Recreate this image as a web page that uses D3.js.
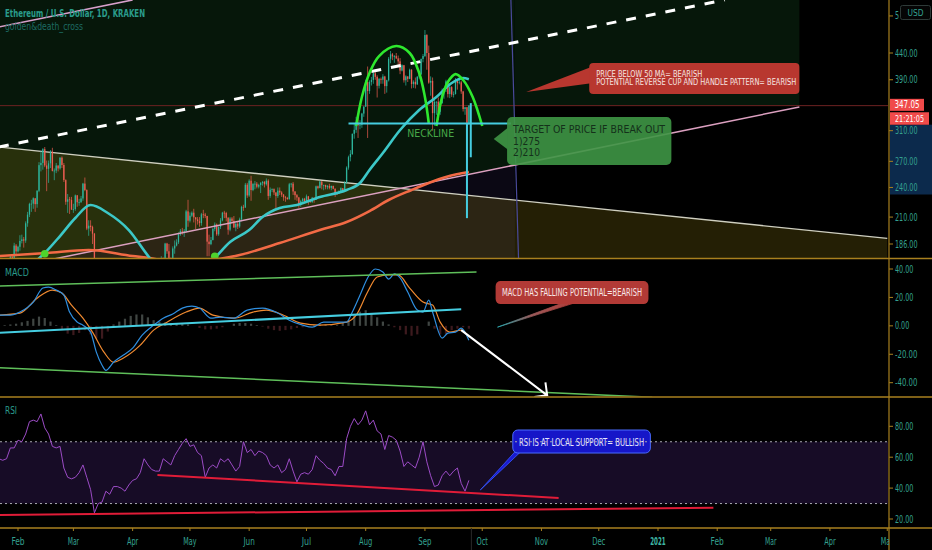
<!DOCTYPE html>
<html><head><meta charset="utf-8">
<script src="https://cdn.jsdelivr.net/npm/d3@7"></script>
<style>html,body{margin:0;padding:0;background:#000;overflow:hidden}svg{display:block}</style>
</head><body>
<svg id="c" width="932" height="550"></svg>
<script>
// ---------------- DATA ----------------
const startDate = "2020-01-22";
const firstOpen = 169.0;
const closes = [
167.9,162.5,162.7,160.6,167.9,170.1,175.6,174.3,184.7,179.9,
183.7,188.6,189.9,188.9,204.2,212.3,222.7,223.1,228.6,222.6,236.5,265.4,268.1,285.2,265.0,261.0,267.6,282.2,258.6,259.0,265.0,261.5,274.5,265.6,248.1,225.0,227.5,226.8,217.2,
217.7,231.6,224.5,224.5,228.4,244.2,237.2,199.4,202.0,200.8,194.9,112.3,133.2,123.3,125.2,110.6,113.9,115.9,133.6,132.8,132.7,122.3,135.6,138.9,136.3,138.8,131.0,130.9,125.2,132.1,133.6,
136.2,141.6,141.5,144.2,142.9,169.7,164.3,173.7,170.8,157.9,158.3,158.4,156.8,157.6,153.5,172.4,171.6,186.4,180.0,171.2,170.8,182.3,184.7,187.4,194.2,197.3,196.7,197.2,215.5,206.6,
211.3,214.2,209.7,207.8,206.2,204.4,212.6,212.4,211.1,188.0,185.9,189.4,199.1,203.1,194.3,200.8,206.9,214.2,213.9,209.3,198.4,208.6,206.4,200.4,203.7,201.3,208.0,219.9,219.2,243.0,231.5,
247.4,237.2,243.8,244.1,240.8,242.7,244.9,246.1,243.5,247.4,231.0,237.5,238.2,234.7,230.9,236.6,234.6,232.4,229.6,228.9,227.8,243.5,244.1,235.7,231.8,229.4,222.1,225.7,228.1,225.6,
230.6,225.9,224.6,229.2,227.3,241.2,239.5,246.5,242.4,242.7,240.3,241.7,239.6,241.6,238.6,233.6,233.5,235.8,239.2,236.2,245.1,262.5,275.1,279.1,305.7,311.2,321.5,317.6,318.4,334.9,345.6,
386.2,370.6,386.1,389.8,401.6,395.2,379.5,391.6,390.0,395.8,379.0,389.2,428.7,437.4,433.4,433.8,429.5,423.7,406.5,416.4,389.1,396.0,391.6,408.1,382.5,386.4,382.0,395.6,399.4,428.4,434.1,
477.1,440.0,385.0,388.0,335.5,352.8,353.2,337.6,351.0,368.1,374.7,387.2,365.6,377.3,364.8,365.6,389.0,384.4,385.5,370.0,341.8,344.5,321.1,347.05];
const highs = [
170.5,168,164,163,168.5,172.5,176.5,177.5,187,186,
184.5,193.5,194,192,206,215,224,227,229.5,228,237,269,283,286.5,288,271,271,284,287,261.5,268,265,275,276,268,249,233,230,230,
223,232.5,232,228,231,245,251,238,207,207,202,195.5,137,134,132,125,118,117.5,135,146,137,135,136,144,143,140,140,133,131,134,135,
137,145,146,145.5,145,171,176,174.5,174,171,160,164,158.5,160,160,176,175,187,187,186,175,184,189,190,196,199,200,199,217,227,
214.5,215.5,218,210,210,210,214,217,214,211,194,192,200,205,204,201.5,209,215,216,215,210,210,210,211,205,206,209.5,221,222,245,245,
249,253,245,247,246,244,246,247,247,250,249,240,239,239,233,240,240,236,233,231,230,245,245,246,236,233,230,227,229,229,
232.5,231,227,230,229,242,242,247.5,247,243,243,242.5,244,242,242,239,235,237,240,239,247,264,277,284,306,320,330,329,325,336,346,
390,414,389,395,403,406,398,393,394,400,397,390,432,444,440,436,440,435,430,418,417,398,395,410,409,389,394,396,403,429,438,
488,479,455,396,394,356,354,360,354,375,376,390,388,382,379,370,393,391,393,388,371,345,345,348];
const lows = [
165,159.5,155.5,158.8,159.7,166.6,167.5,172.2,171.5,176,
179,180.5,186.5,183,187,201,210,215,218,215,219,235,258,260,263,236,245,262,258,248,256,258,260,262,246,222,214,213,217,
214,216,220,221,224,226,236,198,193,197,186,101,90,122,122,107,110,108,115,122,125,121,121,134,133,134,130,125,124.5,124.5,130,
128,135,139,139,140,143,164,163,168,152,154,157,150,155,153,150,170,171,178,168,168,170,178,184,186,193,194,192,196,201,
205,210,205,199,203,201,202,209,209,176,176,185,189,197,193,193,199,206,209,206,194,197,204,200,197,199,200,206,216,219,229,
230,226,236,238,239,239,234,242,240,242,227,229,235,232,218,229,232,230,226,225,227,227,240,232,227,226,219,220,223,224,
225,222,224,224,224,227,238,239,238,237,238,238,238,237,238,230,232,233,234,235,236,244,260,270,278,299,307,300,312,314,330,
345,300,366,380,383,390,360,375,383,383,366,368,387,420,426,421,428,413,400,405,385,380,386,391,375,376,375,381,392,399,422,
432,408,383,363,310,317,333,325,333,350,358,369,360,359,361,360,365,373,382,366,338,333,316,318];

const ma50Dates = ["2020-01-22","2020-02-05","2020-02-15","2020-02-23","2020-03-02","2020-03-10","2020-03-19","2020-03-30","2020-04-10","2020-04-18","2020-04-25","2020-05-06","2020-05-14","2020-05-22","2020-06-01","2020-06-08","2020-06-17","2020-06-26","2020-07-08","2020-07-22","2020-07-29","2020-08-03","2020-08-10","2020-08-19","2020-08-29","2020-09-07","2020-09-15","2020-09-21","2020-09-24"];
const ma50Values = [152,166,178.6,192.8,209.1,221.7,213.9,198.1,174.6,163,158,163,174.6,187.7,198.1,210.1,218.8,221.7,229.9,237.3,244.9,259.7,280.3,310.9,340.3,360.8,384.3,393.1,391];
const ma200Dates = ["2020-01-22","2020-02-16","2020-03-09","2020-04-01","2020-04-10","2020-04-25","2020-05-13","2020-05-27","2020-06-17","2020-07-08","2020-07-22","2020-08-03","2020-08-13","2020-08-25","2020-09-03","2020-09-12","2020-09-24"];
const ma200Values = [176.2,178.6,181.0,176.2,174.6,170.7,173.1,177.0,186.8,198.1,205.4,215.8,226.8,237.3,244.9,251.6,257.3];
const crossDates = ["2020-02-15","2020-05-14"];
const crossValues = [178,176];

// MACD (day index from first candle)
const macdDays = [0,6,11,18,23,26,30,34,37,41,44,48,51,54,56,60,65,70,75,81,86,91,96,101,105,111,116,123,130,138,146,152,159,164,170,177,182,185,189,193,197,201,204,207,210,214,219,222,225,227,232,235,239,242,246];
const macdValues = [7.5,7.5,9.7,16.7,26.6,27.3,25.2,21.6,9.7,2.6,0.5,-4.4,-18.5,-27.7,-31.3,-25.6,-20.7,-15.7,-6.5,0.5,5.4,8.3,12.5,13.9,12.5,5.4,6.2,5.4,11.1,12.5,9.0,4.0,0.5,-0.9,2.6,2.6,2.6,9.7,21.6,33.7,40.0,37.9,32.9,36.5,33.7,23.8,11.1,9.7,18.1,9.7,-8.6,-5.1,-4.4,-1.6,-10.1];
const signalDays = [0,11,20,28,33,38,44,49,55,60,65,74,81,88,98,105,112,123,133,140,149,158,168,182,187,193,198,204,209,215,222,227,231,236,242,246];
const signalValues = [7.5,8.9,19.5,25.2,23.1,14.6,5.4,-4.4,-18.5,-25.6,-22.8,-13.6,-3.0,2.6,9.7,12.5,7.5,5.4,9.7,11.1,7.5,1.9,0.5,2.6,7.5,23.8,34.4,35.8,35.8,26.6,16.7,14.6,2.6,-4.4,-3.0,-8.0];
const histStep = 3;
const histValues = [0.5,0.5,1,1.5,2.5,3.5,5,6.5,5.5,3,0.5,-3,-5.5,-6.5,-5,-3,-6,-9,-9,-4,1,3,5,7,8,8,6,4,3,2.5,2,2,1.5,1,0,-1.5,-2.5,-2.5,-2,-1,0,1.5,2,2,1.5,0.5,-0.5,-2,-3,-3.5,-3,-2.5,-1.5,-1,-0.5,0.5,1,1,0.5,0.5,2,4,7,10,11,9,6,3,1,-1,-3,-6,-7,-6,0,3,-2,-6,-6,-3,-2,-1,-2];
// RSI every 2nd day
const rsiStep = 2;
const rsiValues = [59,58,59,66,66,71,70,75,83,84,83,88,79,75,67,66,67,53,47,46,47,50,55,47,39,24,30,31,38,36,41,41,40,38,42,45,46,50,59,55,52,51,51,59,57,55,61,65,69,72,67,68,63,61,47,53,55,53,59,57,59,55,51,54,70,63,65,61,64,63,61,55,53,55,50,52,59,51,44,49,50,49,52,61,58,56,53,52,48,54,54,72,80,85,81,84,90,81,84,77,75,65,74,73,71,64,54,57,55,53,60,70,57,48,41,42,48,51,48,51,53,43,38,45];

const priceTicks = [520,440,390,310,270,240,210,186];
const macdTicks = [40,20,0,-20,-40];
const rsiTicks = [80,60,40,20];
const monthTickDates = ["2020-02-01","2020-03-01","2020-04-01","2020-05-01","2020-06-01","2020-07-01","2020-08-01","2020-09-01","2020-10-01","2020-11-01","2020-12-01","2021-01-01","2021-02-01","2021-03-01","2021-04-01","2021-05-01"];
const monthTickLabels = ["Feb","Mar","Apr","May","Jun","Jul","Aug","Sep","Oct","Nov","Dec","2021","Feb","Mar","Apr","May"];
const lastPrice = 347.05;

// drawings (date, value)
const descLine = [["2020-01-22",288],["2021-05-01",190.7]];
const riseLine = [["2020-02-12",171.5],["2021-03-16",345]];
const topPinkLine = [["2020-01-22",495],["2020-04-01",559]];
const dashLine = [["2020-01-22",288],["2021-02-05",559]];
const vLine = [["2020-10-16",560],["2020-10-20",174]];
const greenZones = [["2020-01-01","2020-10-18",600,150],["2020-10-18","2021-03-16",600,347.05]];
const zoneSplit = "2020-10-18";
const arc1 = [["2020-07-27",316.6],["2020-07-30",360.8],["2020-08-03",402],["2020-08-08",434],["2020-08-17",454],["2020-08-24",440],["2020-08-29",402],["2020-09-01",360.8],["2020-09-03",320.9]];
const arc2 = [["2020-09-07",316.6],["2020-09-10",360.8],["2020-09-13",386],["2020-09-17",400],["2020-09-21",389.6],["2020-09-26",360.8],["2020-10-01",316.6]];
const neckline = [["2020-07-23",320.2],["2020-10-16",320.2]];
const targetA = [["2020-09-23",320],["2020-09-23",209]];
const targetB = [["2020-09-25",351],["2020-09-25",275]];
const redNote = {box:[["2020-11-26",420.6],["2021-03-16",365.7]], tip:["2020-10-24",369], base:[413,384],
  lines:["PRICE BELOW 50 MA= BEARISH","POTENTIAL REVERSE CUP AND HANDLE PATTERN= BEARISH"]};
const greenNote = {box:[["2020-10-14",329.7],["2021-01-08",265.6]], tip:["2020-10-07",298.6], base:[315.7,283.4],
  lines:["TARGET OF PRICE IF BREAK OUT","1)275","2)210"]};
const necklineLabel = ["2020-09-04",306.7,"NECKLINE"];
const macdTop = [["2020-01-22",28.0],["2020-09-28",37.9]];
const macdCyan = [["2020-01-22",-4.9],["2020-09-20",11.6]];
const macdBottom = [["2020-01-22",-29.4],["2020-12-29",-50.3]];
const macdArrow = [["2020-09-20",-3.0],["2020-11-04",-48.9]];
const macdNote = {box:[["2020-10-08",31.5],["2020-12-27",15.3]], tip:["2020-10-09",-0.9], base:["2020-11-12","2020-11-18"], text:"MACD HAS FALLING POTENTIAL=BEARISH"};
const rsiLine1 = [["2020-04-14",48.5],["2020-11-10",33.6]];
const rsiLine2 = [["2020-01-22",22.6],["2021-01-30",27.3]];
const rsiNote = {box:[["2020-10-17",77.6],["2020-12-28",62.7]], tip:["2020-09-30",38.8], base:["2020-10-18","2020-10-21"], text:"RSI IS AT LOCAL SUPPORT= BULLISH"};

// ---------------- CHART ----------------
const FONT = "'Liberation Sans Narrow','DejaVu Sans Condensed','Liberation Sans',Arial,sans-serif";
const GOLD = "#a8801f", TEAL = "#34a08f";
const parse = d3.utcParse("%Y-%m-%d");
const D = s => parse(s);
const svg = d3.select("#c");
const defs = svg.append("defs");
function clip(id,x0,y0,w,h){defs.append("clipPath").attr("id",id).append("rect").attr("x",x0).attr("y",y0).attr("width",w).attr("height",h);}
clip("cp",0,0,888,258); clip("cm",0,259.5,888,137); clip("cr",0,398,888,129.5); clip("ct",0,528,889,22);

const x = d3.scaleUtc().domain([D("2020-02-01"),D("2021-01-01")]).range([18,658]);
const yP = d3.scaleLog().domain([186,440]).range([244,53]);
const yM = d3.scaleLinear().domain([-40,40]).range([382.7,269]);
const yR = d3.scaleLinear().domain([20,80]).range([519,426.3]);

const first = D(startDate);
const dates = closes.map((_,i)=>d3.utcDay.offset(first,i));

function T(g,px,py,str,o={}){
  const t=g.append("text").attr("x",px).attr("y",py).text(str)
   .attr("font-family",o.family||FONT).attr("font-size",o.size||10).attr("fill",o.fill||"#fff")
   .attr("dominant-baseline","central");
  if(o.anchor) t.attr("text-anchor",o.anchor);
  if(o.weight) t.attr("font-weight",o.weight);
  if(o.len) t.attr("textLength",o.len).attr("lengthAdjust","spacingAndGlyphs");
  return t;
}
const lineP = d3.line().x(d=>x(D(d[0]))).y(d=>yP(d[1]));
const lineM = d3.line().x(d=>x(D(d[0]))).y(d=>yM(d[1]));
const lineR = d3.line().x(d=>x(D(d[0]))).y(d=>yR(d[1]));

// ===== PRICE PANE =====
const gp = svg.append("g").attr("clip-path","url(#cp)");
greenZones.forEach(z=>{
  gp.append("rect").attr("x",x(D(z[0]))).attr("y",yP(z[2]))
    .attr("width",x(D(z[1]))-x(D(z[0]))).attr("height",yP(z[3])-yP(z[2])).attr("fill","#06170a");
});
defs.append("clipPath").attr("id","cps").append("rect").attr("x",0).attr("y",0).attr("width",x(D(zoneSplit))).attr("height",258);
const rp0=[x(D(riseLine[0][0])),yP(riseLine[0][1])], rp1=[x(D(riseLine[1][0])),yP(riseLine[1][1])];
gp.append("path").attr("clip-path","url(#cps)")
  .attr("d",`M${rp0[0]},${rp0[1]}L${rp1[0]},${rp1[1]}L${rp1[0]},300L${rp0[0]},300Z`).attr("fill","#0b0814");
const dp0=[x(D(descLine[0][0])),yP(descLine[0][1])], dp1=[x(D(descLine[1][0])),yP(descLine[1][1])];
gp.append("path").attr("d",`M${dp0[0]},${dp0[1]}L${dp1[0]},${dp1[1]}L${dp1[0]},300L${dp0[0]},300Z`)
  .attr("fill","rgb(155,135,20)").attr("fill-opacity",0.23);

gp.append("line").attr("x1",0).attr("x2",888).attr("y1",yP(lastPrice)).attr("y2",yP(lastPrice)).attr("stroke","#6e2222").attr("stroke-width",1);

gp.append("path").attr("d",lineP(descLine)).attr("stroke","#cfcfc0").attr("stroke-width",1.3).attr("fill","none");
gp.append("path").attr("d",lineP(topPinkLine)).attr("stroke","#d8a0cc").attr("stroke-width",1.5).attr("fill","none");
gp.append("path").attr("d",lineP(vLine)).attr("stroke","#4a4a9c").attr("stroke-width",1.2).attr("fill","none");

// candles
const candles = closes.map((c,i)=>{const o=i?closes[i-1]:firstOpen;return {d:dates[i],o,c,h:Math.max(highs[i],o,c),l:Math.min(lows[i],o,c)};});
const cg = gp.append("g");
candles.forEach(k=>{
  const col = k.c>=k.o ? "#2db59c" : "#ee5d52";
  const cx = x(k.d);
  cg.append("line").attr("x1",cx).attr("x2",cx).attr("y1",yP(k.h)).attr("y2",yP(k.l)).attr("stroke",col).attr("stroke-width",0.7);
  const y1=yP(Math.max(k.o,k.c)), y2=yP(Math.min(k.o,k.c));
  cg.append("rect").attr("x",cx-0.65).attr("width",1.3).attr("y",y1).attr("height",Math.max(0.8,y2-y1)).attr("fill",col);
});

gp.append("path").attr("d",lineP(riseLine)).attr("stroke","#dca0c0").attr("stroke-width",1.5).attr("fill","none");
gp.append("path").attr("d",lineP(dashLine)).attr("stroke","#fff").attr("stroke-width",3).attr("stroke-dasharray","10,10").attr("fill","none");

// MAs
const maLine = d3.line().x(d=>x(D(d[0]))).y(d=>yP(d[1])).curve(d3.curveMonotoneX);
gp.append("path").attr("d",maLine(ma200Dates.map((d,i)=>[d,ma200Values[i]]))).attr("stroke","#f26a45").attr("stroke-width",2.6).attr("fill","none");
gp.append("path").attr("d",maLine(ma50Dates.map((d,i)=>[d,ma50Values[i]]))).attr("stroke","#3cc8c8").attr("stroke-width",2.6).attr("fill","none");
crossDates.forEach((d,i)=>gp.append("circle").attr("cx",x(D(d))).attr("cy",yP(crossValues[i])).attr("r",3.8).attr("fill","#4ed42c"));

// arcs & neckline & targets
const arcLine = d3.line().x(d=>x(D(d[0]))).y(d=>yP(d[1])).curve(d3.curveCatmullRom.alpha(0.5));
[arc1,arc2].forEach(a=>gp.append("path").attr("d",arcLine(a)).attr("stroke","#2ee82e").attr("stroke-width",2.6).attr("fill","none"));
[neckline,targetA,targetB].forEach(l=>gp.append("path").attr("d",lineP(l)).attr("stroke","#45cde0").attr("stroke-width",2).attr("fill","none"));
T(gp,x(D(necklineLabel[0])),yP(necklineLabel[1]),necklineLabel[2],{size:11,fill:"#46a848",anchor:"middle",len:47});

{ // red note
  const n=redNote, bx0=x(D(n.box[0][0])), bx1=x(D(n.box[1][0])), by0=yP(n.box[0][1]), by1=yP(n.box[1][1]);
  gp.append("path").attr("d",`M${bx0+2},${yP(n.base[0])}L${x(D(n.tip[0]))},${yP(n.tip[1])}L${bx0+2},${yP(n.base[1])}Z`).attr("fill","#b8372f");
  gp.append("rect").attr("x",bx0).attr("y",by0).attr("width",bx1-bx0).attr("height",by1-by0).attr("rx",4).attr("fill","#b8372f");
  T(gp,bx0+7,by0+10.8,n.lines[0],{size:8.6,fill:"#f6e6e2",len:106});
  T(gp,bx0+7,by0+19.4,n.lines[1],{size:8.6,fill:"#f6e6e2",len:200});
}
{ // green note (semi-transparent, rising line shows through)
  const n=greenNote, bx0=x(D(n.box[0][0])), bx1=x(D(n.box[1][0])), by0=yP(n.box[0][1]), by1=yP(n.box[1][1]);
  const gn = gp.append("g").attr("opacity",0.9);
  gn.append("path").attr("d",`M${bx0+2},${yP(n.base[0])}L${x(D(n.tip[0]))},${yP(n.tip[1])}L${bx0+2},${yP(n.base[1])}Z`).attr("fill","#3f9645");
  gn.append("rect").attr("x",bx0).attr("y",by0).attr("width",bx1-bx0).attr("height",by1-by0).attr("rx",5).attr("fill","#3f9645");
  T(gp,bx0+6,by0+12,n.lines[0],{size:10.5,fill:"#14301a",len:152});
  T(gp,bx0+6,by0+23.5,n.lines[1],{size:10.5,fill:"#14301a",len:27});
  T(gp,bx0+6,by0+34.5,n.lines[2],{size:10.5,fill:"#14301a",len:27});
}
T(svg,5,13,"Ethereum / U.S. Dollar, 1D, KRAKEN",{size:10,fill:"#2a9d8c",weight:600,len:140});
T(svg,5,26,"golden&death_cross",{size:10,fill:"#1d6b62",len:78});

// ===== MACD PANE =====
const gm = svg.append("g").attr("clip-path","url(#cm)");
histValues.forEach((v,k)=>{
  const d=dates[k*histStep], cx=x(d);
  gm.append("rect").attr("x",cx-1.1).attr("width",2.2).attr("y",Math.min(yM(v),yM(0))).attr("height",Math.abs(yM(v)-yM(0)))
    .attr("fill",v>=0?"#b8c8c0":"#b04a55").attr("fill-opacity",0.35);
});
const mLine = d3.line().x(d=>x(dates[d[0]])).y(d=>yM(d[1])).curve(d3.curveMonotoneX);
gm.append("path").attr("d",mLine(signalDays.map((d,i)=>[d,signalValues[i]]))).attr("stroke","#f08a30").attr("stroke-width",1.2).attr("fill","none");
gm.append("path").attr("d",mLine(macdDays.map((d,i)=>[d,macdValues[i]]))).attr("stroke","#2f8fe0").attr("stroke-width",1.2).attr("fill","none");
gm.append("path").attr("d",lineM(macdTop)).attr("stroke","#5fbf5a").attr("stroke-width",1.5).attr("fill","none");
gm.append("path").attr("d",lineM(macdBottom)).attr("stroke","#5fbf5a").attr("stroke-width",1.5).attr("fill","none");
gm.append("path").attr("d",lineM(macdCyan)).attr("stroke","#45cde0").attr("stroke-width",2).attr("fill","none");
{ // arrow
  const a0=[x(D(macdArrow[0][0])),yM(macdArrow[0][1])], a1=[x(D(macdArrow[1][0])),yM(macdArrow[1][1])];
  const ang=Math.atan2(a1[1]-a0[1],a1[0]-a0[0]);
  const hl=13, h1=[a1[0]-hl*Math.cos(ang-Math.PI/4),a1[1]-hl*Math.sin(ang-Math.PI/4)], h2=[a1[0]-hl*Math.cos(ang+Math.PI/4),a1[1]-hl*Math.sin(ang+Math.PI/4)];
  gm.append("path").attr("d",`M${a0}L${a1}M${h1}L${a1}L${h2}`).attr("stroke","#fff").attr("stroke-width",2).attr("fill","none");
}
{ // macd note
  const n=macdNote, bx0=x(D(n.box[0][0])), bx1=x(D(n.box[1][0])), by0=yM(n.box[0][1]), by1=yM(n.box[1][1]);
  const grad=defs.append("linearGradient").attr("id","tg").attr("gradientUnits","userSpaceOnUse")
    .attr("x1",x(D(n.tip[0]))).attr("y1",yM(n.tip[1])).attr("x2",x(D(n.base[1]))).attr("y2",by1);
  grad.append("stop").attr("offset",0).attr("stop-color","#2aa9b0");
  grad.append("stop").attr("offset",0.45).attr("stop-color","#9a5a5a");
  grad.append("stop").attr("offset",1).attr("stop-color","#b23a36");
  gm.append("path").attr("d",`M${x(D(n.base[0]))},${by1-1}L${x(D(n.tip[0]))},${yM(n.tip[1])}L${x(D(n.base[1]))},${by1-1}Z`).attr("fill","url(#tg)").attr("stroke","url(#tg)").attr("stroke-width",0.8);
  gm.append("rect").attr("x",bx0).attr("y",by0).attr("width",bx1-bx0).attr("height",by1-by0).attr("rx",5).attr("fill","#b23a36");
  T(gm,(bx0+bx1)/2,(by0+by1)/2,n.text,{size:10,fill:"#f8e8e8",anchor:"middle",len:140});
}
T(svg,5,272,"MACD",{size:10,fill:"#2a9d8c",len:24});

// ===== RSI PANE =====
const gr = svg.append("g").attr("clip-path","url(#cr)");
gr.append("rect").attr("x",0).attr("width",888).attr("y",yR(70)).attr("height",yR(30)-yR(70)).attr("fill","#170c26");
{ // rsi note (under dotted lines)
  const n=rsiNote, bx0=x(D(n.box[0][0])), bx1=x(D(n.box[1][0])), by0=yR(n.box[0][1]), by1=yR(n.box[1][1]);
  gr.append("path").attr("d",`M${x(D(n.base[0]))},${by1-1}L${x(D(n.tip[0]))},${yR(n.tip[1])}L${x(D(n.base[1]))},${by1-1}Z`).attr("fill","#1a1ad0").attr("stroke","#3a5cff").attr("stroke-width",0.8);
  gr.append("rect").attr("x",bx0).attr("y",by0).attr("width",bx1-bx0).attr("height",by1-by0).attr("rx",5).attr("fill","#1616c8").attr("stroke","#4a6cff").attr("stroke-width",1);
  T(gr,(bx0+bx1)/2,(by0+by1)/2+0.5,n.text,{size:10,fill:"#e6e6ff",anchor:"middle",len:125});
}
[70,30].forEach(v=>gr.append("line").attr("x1",0).attr("x2",888).attr("y1",yR(v)).attr("y2",yR(v)).attr("stroke","#a8a8b0").attr("stroke-width",1).attr("stroke-dasharray","2,3"));
gr.append("path").attr("d",d3.line().x((v,k)=>x(dates[k*rsiStep])).y(v=>yR(v))(rsiValues)).attr("stroke","#9c4cc6").attr("stroke-width",1).attr("fill","none");
gr.append("path").attr("d",lineR(rsiLine1)).attr("stroke","#e01c38").attr("stroke-width",2).attr("fill","none");
gr.append("path").attr("d",lineR(rsiLine2)).attr("stroke","#e01c38").attr("stroke-width",2).attr("fill","none");
T(svg,5,410,"RSI",{size:10,fill:"#2a9d8c",len:12});

// ===== AXES / DIVIDERS =====
[258.5,397,528].forEach(yy=>svg.append("line").attr("x1",0).attr("x2",932).attr("y1",yy).attr("y2",yy).attr("stroke",GOLD).attr("stroke-width",1.3));
svg.append("line").attr("x1",889).attr("x2",889).attr("y1",0).attr("y2",550).attr("stroke",GOLD).attr("stroke-width",1.2);
svg.append("rect").attr("x",890).attr("width",42).attr("y",yP(318.5)).attr("height",yP(232.5)-yP(318.5)).attr("fill","#0c2a4c");

function axLen(s){let w=0;for(const ch of s){w+= ch==="."?2:(ch==="-"?4:4.1);}return w;}
function axisLabel(yy,v){
  const s=v.toFixed(2);
  svg.append("line").attr("x1",889).attr("x2",893).attr("y1",yy).attr("y2",yy).attr("stroke",GOLD);
  T(svg,895,yy,s,{size:10,fill:TEAL,len:axLen(s)});
}
priceTicks.filter(v=>v<500).forEach(v=>axisLabel(yP(v),v));
macdTicks.forEach(v=>axisLabel(yM(v),v));
rsiTicks.forEach(v=>axisLabel(yR(v),v));
{ // top price label, partly hidden by the USD button
  const v=priceTicks[0], yy=yP(v);
  svg.append("line").attr("x1",889).attr("x2",893).attr("y1",yy).attr("y2",yy).attr("stroke",GOLD);
  defs.append("clipPath").attr("id","cu").append("rect").attr("x",889).attr("y",0).attr("width",10).attr("height",30);
  T(svg.append("g").attr("clip-path","url(#cu)"),895,yy,v.toFixed(2),{size:10,fill:TEAL,len:axLen(v.toFixed(2))});
}
svg.append("rect").attr("x",900.5).attr("y",5.5).attr("width",30).attr("height",14).attr("rx",2).attr("fill","#050505").attr("stroke","#2e3a38");
T(svg,915.5,12.5,"USD",{size:9.5,fill:TEAL,anchor:"middle",len:16});

{
  const yy=yP(lastPrice);
  svg.append("rect").attr("x",890).attr("y",yy-6.8).attr("width",34).attr("height",12).attr("fill","#f04a4a");
  T(svg,907,yy-0.8,lastPrice.toFixed(2),{size:10,fill:"#fff",anchor:"middle",len:25});
  svg.append("rect").attr("x",890).attr("y",yy+6.6).attr("width",39).attr("height",12.5).attr("fill","#f04a4a");
  T(svg,909.5,yy+12.9,"21:21:05",{size:9.5,fill:"#fff",anchor:"middle",len:29});
}

// time axis
function labLen(s){let w=0;for(const ch of s){w+= "Jlit1rf".includes(ch)?2.6:(/[0-9]/.test(ch)?4.3:4.4);}return w;}
const gt = svg.append("g").attr("clip-path","url(#ct)");
monthTickDates.forEach((d,i)=>{
  const tx=x(D(d)), lab=monthTickLabels[i], yr=/^\d{4}$/.test(lab);
  gt.append("line").attr("x1",tx).attr("x2",tx).attr("y1",528).attr("y2",531).attr("stroke",GOLD);
  T(gt,tx,541,lab,{size:10,fill:yr?"#3fb8a4":TEAL,weight:yr?700:400,anchor:"middle",len:labLen(lab)});
});
gt.append("line").attr("x1",x(dates[dates.length-1])+2.5).attr("x2",x(dates[dates.length-1])+2.5).attr("y1",528).attr("y2",550).attr("stroke","#2a2a2a");
</script></body></html>
